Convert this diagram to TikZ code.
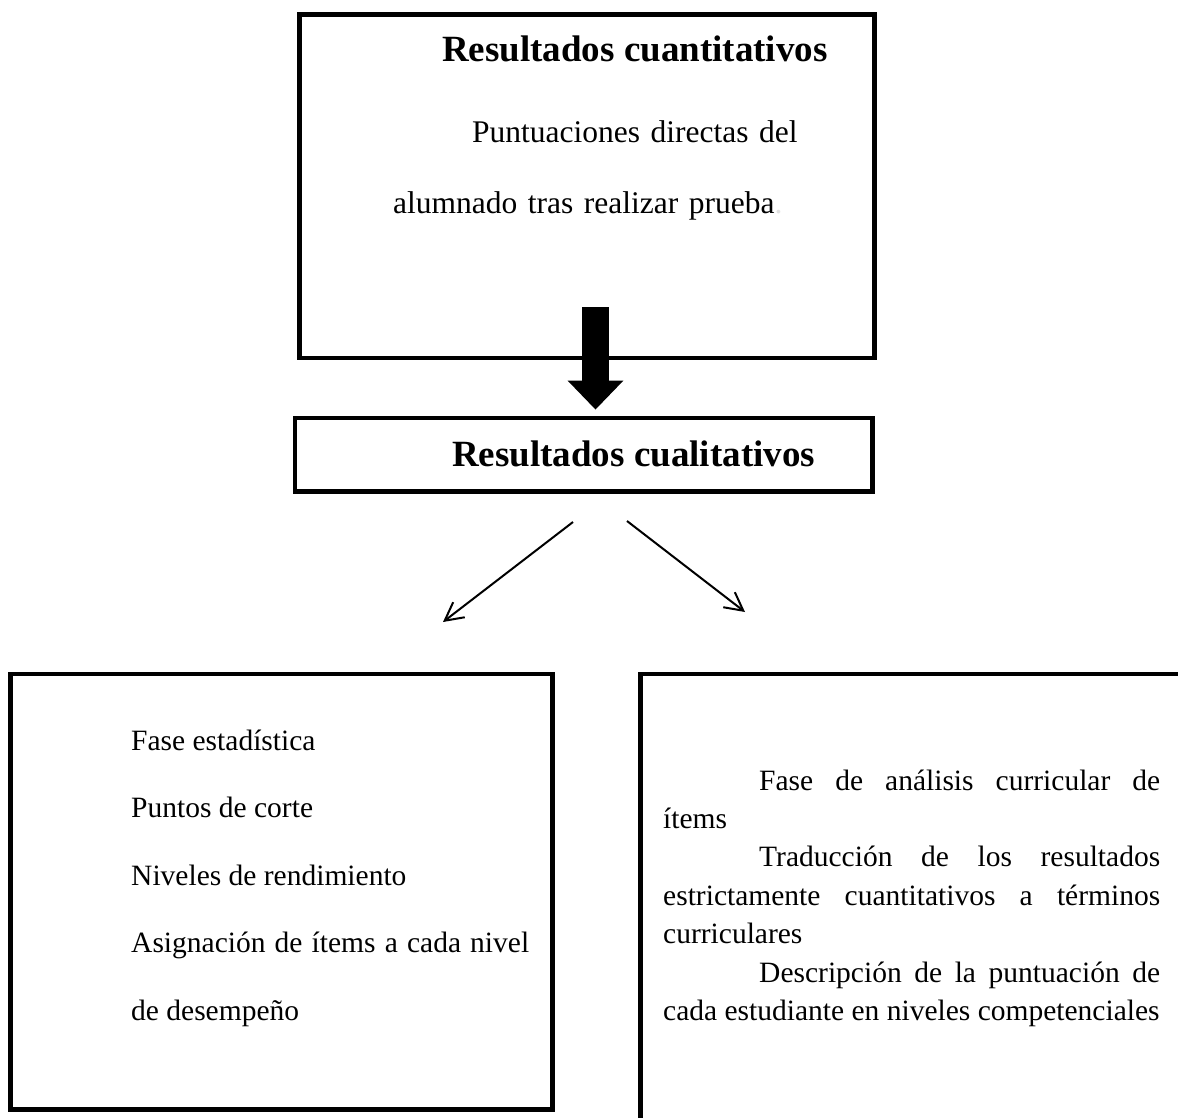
\documentclass[tikz,border=0pt]{standalone}
\usepackage{fontspec}
\setmainfont{Liberation Serif}
\usetikzlibrary{arrows.meta}

\begin{document}
\begin{tikzpicture}[x=1pt,y=-1pt,
  box/.style={draw,line width=4.8pt,inner sep=0pt},
  txt/.style={anchor=base west,inner sep=0pt},
  thinarrow/.style={line width=2pt,-{Straight Barb[length=18pt,width=19pt]}},
  fatarrow/.style={line width=27pt,-{Triangle[length=29pt,width=54pt]}}]
\clip (0,0) rectangle (1178,1117);
\fill[white] (0,0) rectangle (1178,1117);

\node[box,minimum width=575pt,minimum height=343.5pt] (cuant) at (587,186.25) {};
\node[box,minimum width=577.5pt,minimum height=73.5pt] (cual) at (583.75,454.75) {};
\node[box,minimum width=542pt,minimum height=435.5pt] (estad) at (281.5,891.75) {};
\node[box,minimum width=640pt,minimum height=500pt] (curric) at (960.5,924) {};

\node[txt,font=\fontsize{37}{44}\selectfont\bfseries] (tcuant) at (442,61) {Resultados cuantitativos};
\node[txt,text width=440pt,align=left,font=\fontsize{31.5}{71}\selectfont] (tpunt) at (393,142)
  {\hspace*{79pt}Puntuaciones directas del\\alumnado tras realizar prueba{\color{black!12}.}};

\node[txt,font=\fontsize{37}{44}\selectfont\bfseries] (tcual) at (452,466) {Resultados cualitativos};

\node[txt,text width=398pt,align=justify,font=\fontsize{29.5}{67.5}\selectfont] (testad) at (131,750)
  {Fase estadística\par
   Puntos de corte\par
   Niveles de rendimiento\par
   Asignación de ítems a cada nivel\linebreak de desempeño};

\node[txt,text width=497pt,align=justify,font=\fontsize{29.5}{38.4}\selectfont] (tcurric) at (663,790)
  {\hspace*{96pt}Fase de análisis curricular de\linebreak ítems\par
   \hspace*{96pt}Traducción de los resultados\linebreak estrictamente cuantitativos a términos\linebreak curriculares\par
   \hspace*{96pt}Descripción de la puntuación de\linebreak \mbox{cada estudiante en niveles competenciales}};

\draw[fatarrow] ([xshift=8.5pt,yshift=53pt]cuant.south) -- ([xshift=11.75pt,yshift=6pt]cual.north);

\coordinate (l0) at (573,522);
\coordinate (l1) at (443,622);
\coordinate (r0) at (627,521);
\coordinate (r1) at (745,612);
\draw[thinarrow] (l0) -- (l1);
\draw[thinarrow] (r0) -- (r1);
\end{tikzpicture}
\end{document}
